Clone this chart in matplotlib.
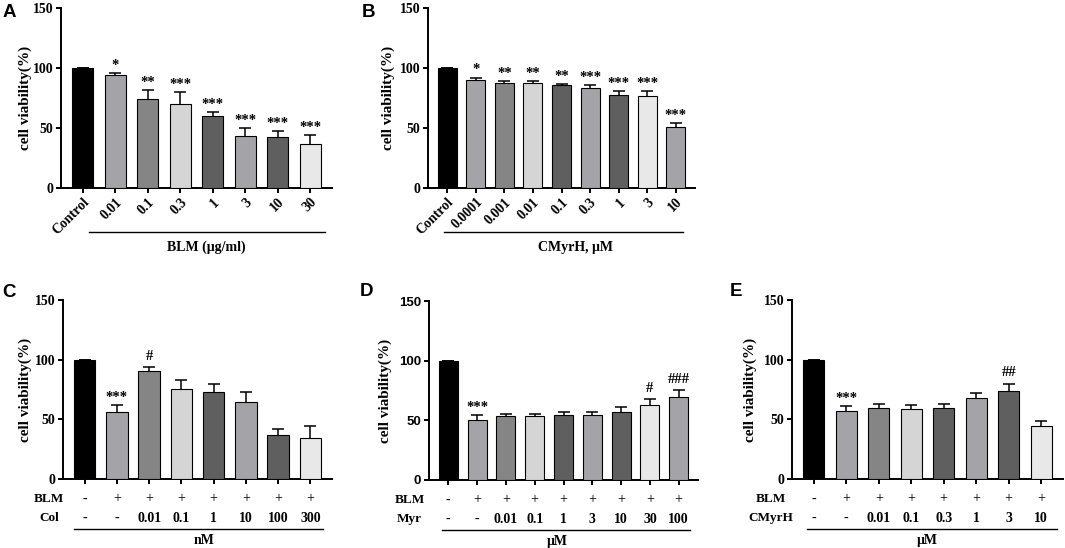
import numpy as np
import matplotlib
matplotlib.use('Agg')
import matplotlib.pyplot as plt

plt.rcParams['font.family'] = ['Liberation Serif', 'DejaVu Serif']
plt.rcParams['font.weight'] = 'bold'

# ---- data ----
a_labels = ['Control', '0.01', '0.1', '0.3', '1', '3', '10', '30']
a_vals = [100, 94.0, 74.2, 70.3, 60.2, 43.2, 42.1, 36.8]
a_err = [0, 1.6, 7.5, 9.4, 3.1, 7.0, 5.0, 7.2]
a_sig = ['', '*', '**', '***', '***', '***', '***', '***']

b_labels = ['Control', '0.0001', '0.001', '0.01', '0.1', '0.3', '1', '3', '10']
b_vals = [100, 90.0, 87.3, 87.5, 85.9, 83.1, 77.5, 76.7, 51.0]
b_err = [0, 2.0, 1.7, 1.5, 0.5, 2.5, 3.3, 4.1, 3.4]
b_sig = ['', '*', '**', '**', '**', '***', '***', '***', '***']

c_blm = ['-', '+', '+', '+', '+', '+', '+', '+']
c_col = ['-', '-', '0.01', '0.1', '1', '10', '100', '300']
c_vals = [100, 56.3, 90.3, 75.8, 72.8, 64.4, 37.1, 34.0]
c_err = [0, 5.3, 3.4, 7.0, 6.7, 8.4, 5.0, 10.0]
c_sig = ['', '***', '#', '', '', '', '', '']

d_blm = ['-', '+', '+', '+', '+', '+', '+', '+', '+']
d_myr = ['-', '-', '0.01', '0.1', '1', '3', '10', '30', '100']
d_vals = [100, 50.5, 53.5, 53.5, 54.1, 54.7, 57.4, 63.0, 69.2]
d_err = [0, 3.6, 2.0, 2.0, 2.5, 2.5, 3.4, 4.5, 5.9]
d_sig = ['', '***', '', '', '', '', '', '#', '###']

e_blm = ['-', '+', '+', '+', '+', '+', '+', '+']
e_cmyrh = ['-', '-', '0.01', '0.1', '0.3', '1', '3', '10']
e_vals = [100, 56.9, 59.9, 58.8, 59.9, 67.7, 73.9, 44.3]
e_err = [0, 4.4, 3.1, 3.1, 3.1, 4.2, 6.1, 4.7]
e_sig = ['', '***', '', '', '', '', '##', '']

colores = ['#000000', '#a3a3a8', '#858585', '#d5d5d5', '#5f5f5f',
           '#a3a3a8', '#5f5f5f', '#e8e8e8', '#a3a3a8']

W, H = 1065, 548
fig = plt.figure(figsize=(W / 100, H / 100), dpi=100)


def make_ax(l, t, r, b):
    return fig.add_axes([l / W, 1 - b / H, (r - l) / W, (b - t) / H])


def letra(txt, px, py):
    fig.text(px / W, 1 - py / H, txt, fontsize=13.5, fontweight='bold',
             family='Liberation Sans', ha='left', va='top')


def panel(ax, vals, err, sig, ylab_x, sans_ticks=False):
    n = len(vals)
    x = np.arange(n)
    ax.errorbar(x, vals, yerr=err, fmt='none', ecolor='black', elinewidth=1.1,
                capsize=4.5, capthick=1.1, zorder=2)
    ax.bar(x, vals, width=0.66, color=colores[:n], edgecolor='black',
           linewidth=0.8, zorder=3)
    for i in range(n):
        if sig[i]:
            off = 5.5 if '#' in sig[i] else 3
            ax.annotate(sig[i], (x[i], vals[i] + err[i]), xytext=(0, off),
                        textcoords='offset points', ha='center', va='baseline',
                        fontsize=10.5, fontweight='bold')
    ax.set_xlim(-0.67, n - 1 + 0.67)
    ax.set_ylim(0, 150)
    ax.set_yticks([0, 50, 100, 150])
    ax.set_xticks(x)
    for s in ['top', 'right']:
        ax.spines[s].set_visible(False)
    for s in ['left', 'bottom']:
        ax.spines[s].set_linewidth(1.4)
    ax.tick_params(width=1.4, length=3.5, labelsize=10, pad=2)
    if sans_ticks:
        for t in ax.get_yticklabels():
            t.set_family('Liberation Sans')
            t.set_fontsize(9.5)
    ax.set_ylabel('cell viability(%)', fontsize=11, fontweight='bold')
    ax.yaxis.set_label_coords(ylab_x, 0.5)


def group_line(ax, x0, x1, ly, label, lx, ty):
    tr = ax.get_xaxis_transform()
    ax.plot([x0, x1], [ly, ly], color='black', lw=1.0, transform=tr, clip_on=False)
    ax.text(lx, ty, label, transform=tr, ha='center', va='center',
            fontsize=10, fontweight='bold')


def rows(ax, blm, drug, name, xname):
    tr = ax.get_xaxis_transform()
    ax.tick_params(labelbottom=False)
    ax.text(xname, -0.112, 'BLM', transform=tr, ha='center', va='center',
            fontsize=9.5, fontweight='bold', clip_on=False)
    ax.text(xname, -0.218, name, transform=tr, ha='center', va='center',
            fontsize=9.5, fontweight='bold', clip_on=False)
    for i in range(len(blm)):
        ax.text(i, -0.112, blm[i], transform=tr, ha='center', va='center',
                fontsize=10, fontweight='normal')
        ax.text(i, -0.218, drug[i], transform=tr, ha='center', va='center',
                fontsize=10, fontweight='bold' if drug[i] != '-' else 'normal')


# A
axA = make_ax(61, 8, 332, 188)
panel(axA, a_vals, a_err, a_sig, -0.107)
axA.set_xticklabels(a_labels, rotation=45, ha='right', rotation_mode='anchor')
group_line(axA, 0.2, 7.45, -0.244, 'BLM (μg/ml)', 3.8, -0.33)
letra('A', 3, 4)

# B
axB = make_ax(428, 8, 695, 188)
panel(axB, b_vals, b_err, b_sig, -0.124)
axB.set_xticklabels(b_labels, rotation=45, ha='right', rotation_mode='anchor')
group_line(axB, -0.12, 8.24, -0.244, 'CMyrH, μM', 4.5, -0.33)
letra('B', 362, 4)

# C
axC = make_ax(63, 300, 332, 479)
panel(axC, c_vals, c_err, c_sig, -0.115)
rows(axC, c_blm, c_col, 'Col', -1.1)
group_line(axC, -0.32, 7.4, -0.28, 'nM', 3.7, -0.346)
letra('C', 2, 284)

# D
axD = make_ax(429, 301, 698, 480)
panel(axD, d_vals, d_err, d_sig, -0.138, sans_ticks=True)
rows(axD, d_blm, d_myr, 'Myr', -1.34)
group_line(axD, -0.23, 8.39, -0.28, 'μM', 3.8, -0.346)
letra('D', 360, 283)

# E
axE = make_ax(792, 300, 1063, 479)
panel(axE, e_vals, e_err, e_sig, -0.129)
rows(axE, e_blm, e_cmyrh, 'CMyrH', -1.31)
group_line(axE, -0.2, 7.5, -0.28, 'μM', 3.5, -0.346)
letra('E', 730, 283)

plt.savefig('out.png', dpi=100)
